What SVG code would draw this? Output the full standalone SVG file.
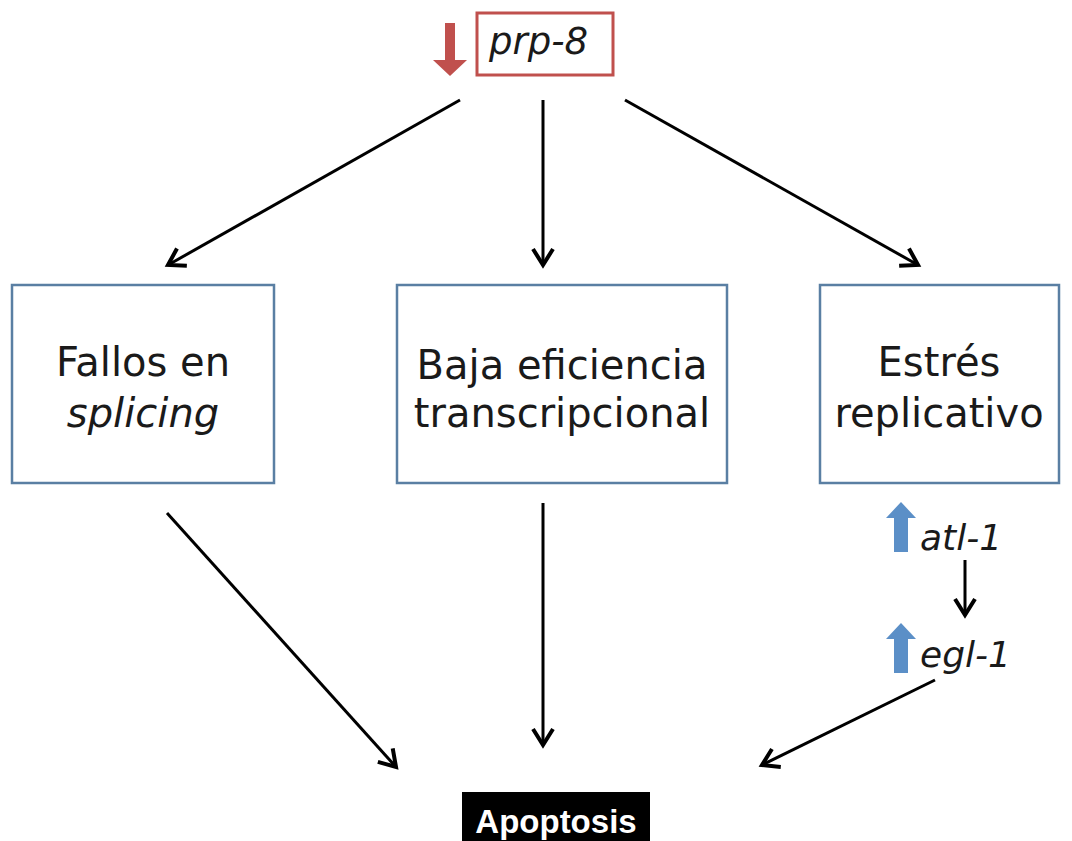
<svg xmlns="http://www.w3.org/2000/svg" width="1072" height="841" viewBox="0 0 1072 841">
<style>
.box{fill:#ffffff;stroke:#5a7fa3;stroke-width:2.5}
.t{font-family:"DejaVu Sans","Liberation Sans",sans-serif;font-size:40px;fill:#1a1a1a;text-anchor:middle}
.it{font-style:italic}
.g{font-family:"DejaVu Sans","Liberation Sans",sans-serif;font-size:36px;font-style:italic;fill:#1a1a1a}
.c{stroke:#000;stroke-width:3;fill:none;marker-end:url(#ah)}
.up{fill:#5b8fc7}
</style>
<defs>
<marker id="ah" viewBox="0 0 12 12" refX="10" refY="6" markerWidth="8" markerHeight="8" orient="auto" markerUnits="strokeWidth">
<polyline points="2,1 10,6 2,11" fill="none" stroke="#000" stroke-width="2"/>
</marker>
</defs>
<rect width="1072" height="841" fill="#ffffff"/>
<g id="prp8">
<polygon points="445,23 455,23 455,60 467,60 450,76 433,60 445,60" fill="#c0504d"/>
<rect x="477" y="13" width="136" height="62" fill="#ffffff" stroke="#c0504d" stroke-width="3"/>
<text x="489" y="54" class="g" style="font-size:37px">prp-8</text>
</g>
<g id="splicing">
<rect class="box" x="12" y="285" width="262" height="198"/>
<text class="t" x="143" y="376">Fallos en</text>
<text class="t it" x="143" y="427">splicing</text>
</g>
<g id="baja">
<rect class="box" x="397" y="285" width="330" height="198"/>
<text class="t" x="562" y="379">Baja eficiencia</text>
<text class="t" x="562" y="427">transcripcional</text>
</g>
<g id="estres">
<rect class="box" x="820" y="285" width="239" height="198"/>
<text class="t" x="939" y="376">Estrés</text>
<text class="t" x="939" y="427">replicativo</text>
</g>
<g id="atl1">
<polygon points="894,552 908,552 908,518 916,518 901,502 886,518 894,518" class="up"/>
<text class="g" x="920" y="550">atl-1</text>
</g>
<g id="egl1">
<polygon points="894,673 908,673 908,639 916,639 901,623 886,639 894,639" class="up"/>
<text class="g" x="920" y="667">egl-1</text>
</g>
<g id="apoptosis">
<rect x="462" y="792" width="188" height="49" fill="#000"/>
<text x="556" y="833" font-family="Liberation Sans, Arial, sans-serif" font-weight="bold" font-size="33" fill="#fff" text-anchor="middle">Apoptosis</text>
</g>
<g id="connectors">
<line class="c" x1="460" y1="100" x2="168" y2="265"/>
<line class="c" x1="543" y1="100" x2="543" y2="265"/>
<line class="c" x1="625" y1="100" x2="918" y2="265"/>
<line class="c" x1="167" y1="513" x2="396" y2="767"/>
<line class="c" x1="543" y1="503" x2="543" y2="745"/>
<line class="c" x1="935" y1="680" x2="762" y2="765"/>
<line class="c" x1="965" y1="560" x2="965" y2="615"/>
</g>
</svg>
